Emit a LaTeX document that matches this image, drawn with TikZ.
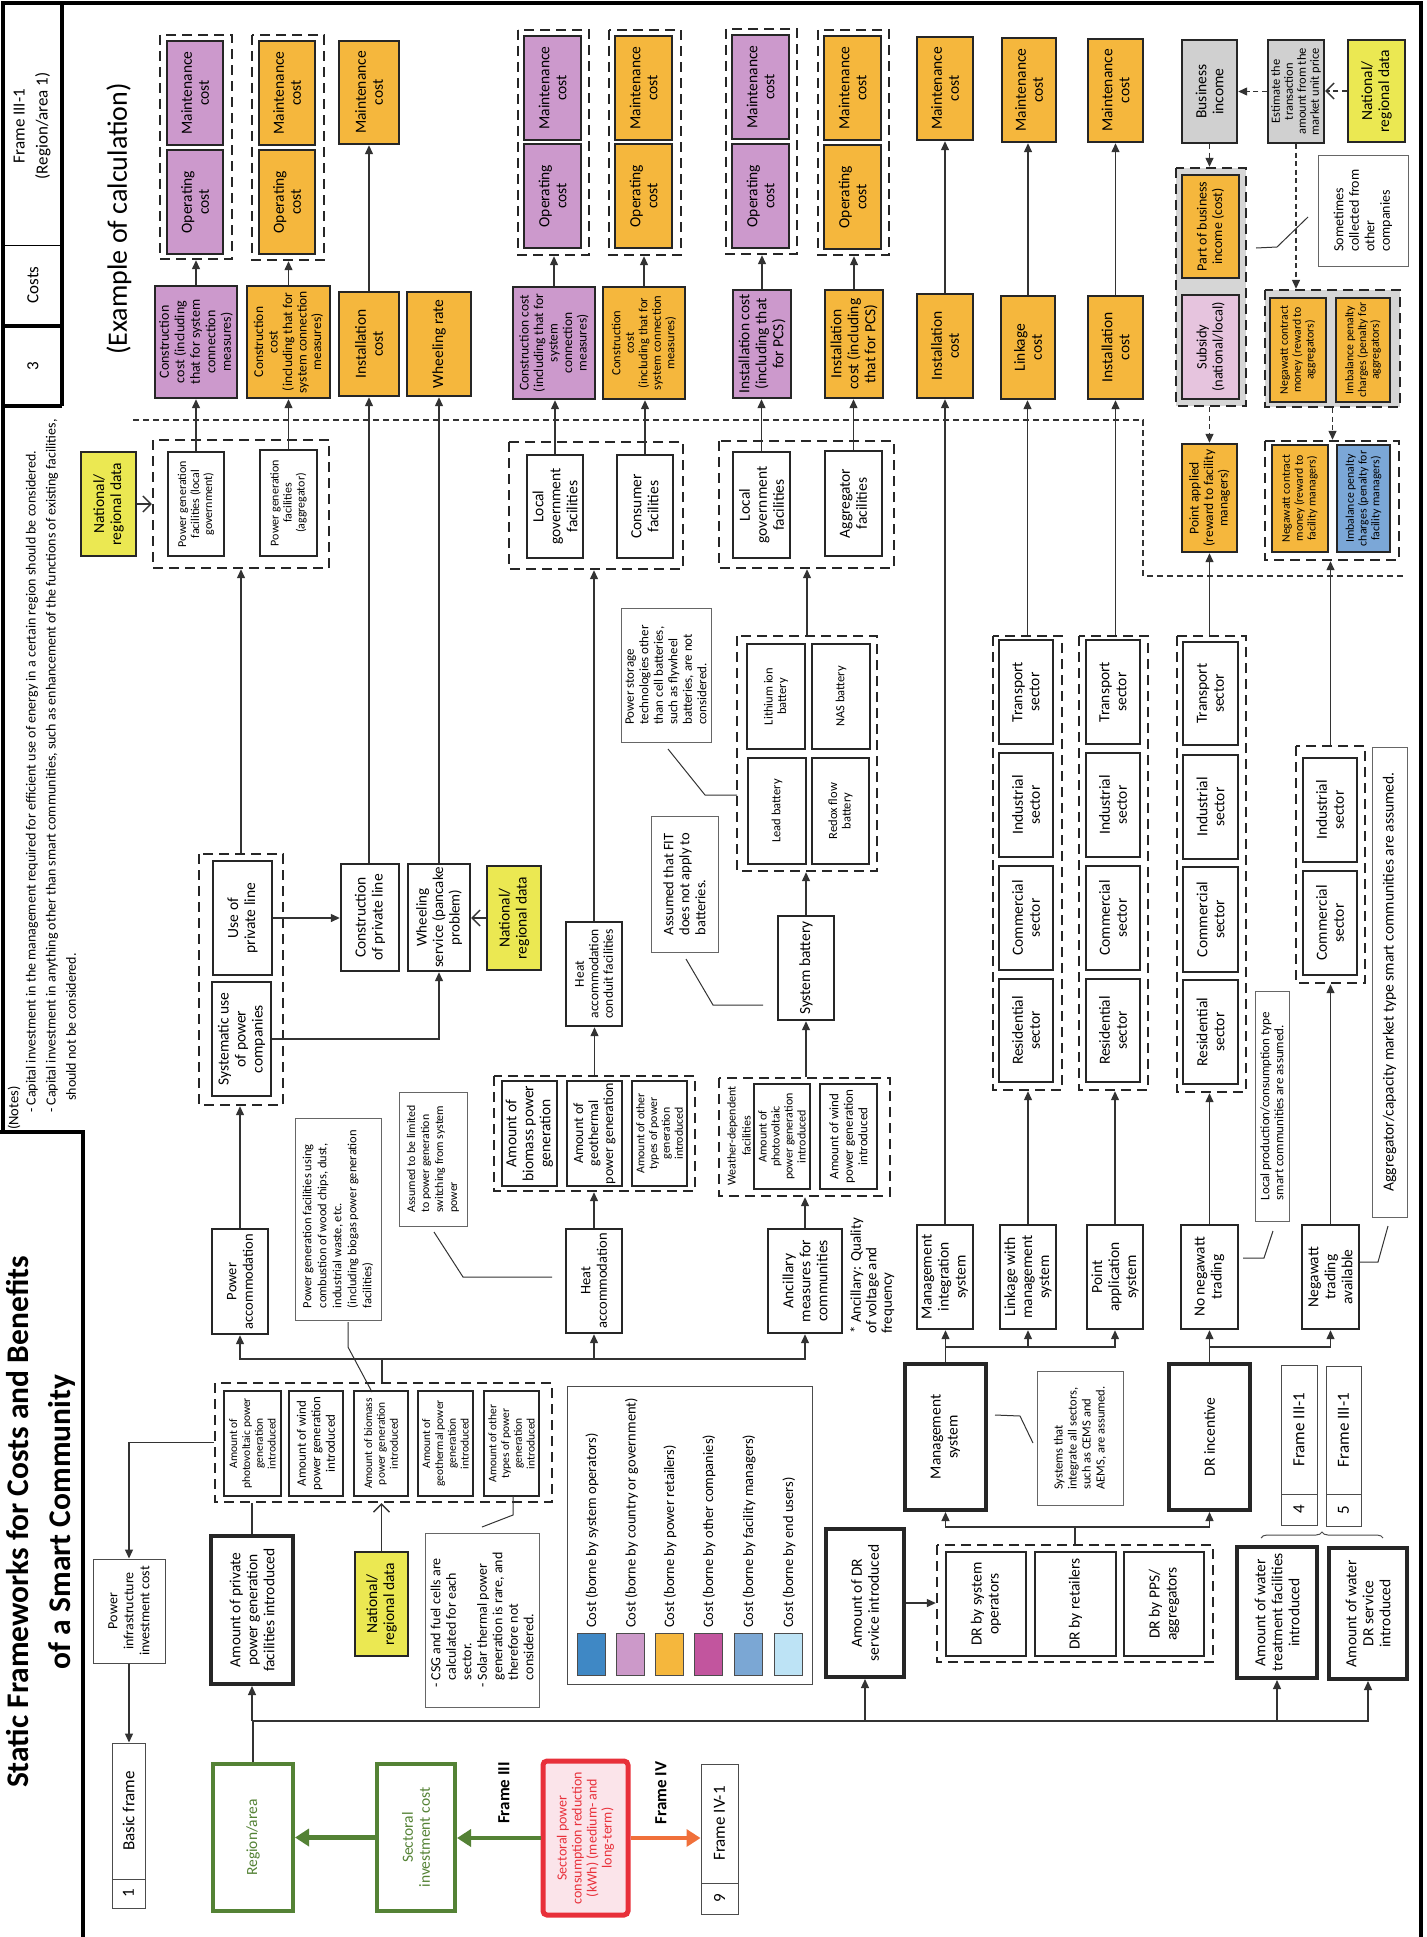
\documentclass[tikz,border=0pt]{standalone}
\usepackage{fontspec}
\setmainfont{Carlito}
\usetikzlibrary{arrows.meta,decorations.pathreplacing}
\definecolor{cpur}{RGB}{204,153,204}
\definecolor{corg}{RGB}{245,183,61}
\definecolor{cgry}{RGB}{208,208,208}
\definecolor{cgrp}{RGB}{214,214,214}
\definecolor{cpnk}{RGB}{230,196,222}
\definecolor{cyel}{RGB}{235,232,82}
\definecolor{cblu}{RGB}{123,167,215}
\definecolor{Lone}{RGB}{63,136,197}
\definecolor{Ltwo}{RGB}{204,153,201}
\definecolor{Lthree}{RGB}{245,183,61}
\definecolor{Lfour}{RGB}{194,85,158}
\definecolor{Lfive}{RGB}{123,167,212}
\definecolor{Lsix}{RGB}{189,227,245}
\definecolor{cgreen}{RGB}{84,130,53}
\definecolor{cred}{RGB}{232,48,58}
\definecolor{credf}{RGB}{251,228,234}
\definecolor{corar}{RGB}{240,112,58}
\newcommand\fA{\fontsize{15.5}{17}\selectfont}
\newcommand\fB{\fontsize{13.5}{14.5}\selectfont}
\newcommand\fC{\fontsize{11.8}{12.8}\selectfont}
\newcommand\fN{\fontsize{14}{15}\selectfont}
\newcommand\bx[7]{\node[#1,minimum width={(#6)-(#4)},minimum height={(#5)-(#3)}] (#2) at ({((#3)+(#5))/2},{((#4)+(#6))/2}) {#7};}
\begin{document}
\begin{tikzpicture}[x=1pt,y=-1pt,
 rot/.style={rotate=90, inner sep=0pt},
 box/.style={rot, draw=black!85, line width=2.4pt, align=center, inner sep=1pt, font=\fA},
 tbox/.style={box, line width=4pt},
 grp/.style={rot, draw=black!85, line width=2.4pt, dash pattern=on 10pt off 6pt},
 note/.style={rot, draw=black!60, line width=0.9pt, align=left, inner sep=2pt, font=\fC},
 thin/.style={rot, draw=black!70, line width=1pt, align=center, font=\fA},
 sw/.style={rot, draw=black!70, line width=1pt},
 gbox/.style={rot, draw=cgreen, line width=4pt, text=cgreen, align=center, font=\fA},
 rbox/.style={rot, draw=cred, line width=5pt, fill=credf, text=cred, rounded corners=4pt, align=center, inner sep=1pt, font=\fontsize{14}{15}\selectfont},
 pur/.style={fill=cpur}, org/.style={fill=corg}, gry/.style={fill=cgry},
 pnk/.style={fill=cpnk}, yel/.style={fill=cyel}, blu/.style={fill=cblu},
 ln/.style={draw=black!80, line width=1.3pt},
 arr/.style={ln, -{Triangle[length=9pt,width=8pt]}},
 darr/.style={arr, dash pattern=on 5pt off 3.5pt},
 oarr/.style={ln, -{Straight Barb[length=8pt,width=16pt]}},
 doarr/.style={oarr, dash pattern=on 5pt off 3.5pt},
 cl/.style={draw=black!80, line width=1pt},
 garr/.style={draw=cgreen, line width=4.5pt, -{Triangle[length=14pt,width=17pt]}},
 orarr/.style={draw=corar, line width=4pt, -{Triangle[length=14pt,width=17pt]}},
 frm/.style={draw=black, line width=3.5pt}
]
\useasboundingbox (0,0) rectangle (1426,1937);
\fill[white] (0,0) rectangle (1426,1937);
% ---------- frame ----------
\draw[frm] (3,1132) -- (3,3) -- (1421,3) -- (1421,1937);
\draw[frm] (0,1132) -- (83,1132) -- (83,1937);
\draw[frm] (62,3) -- (62,406);
\draw[frm] (3,326) -- (62,326);
\draw[frm] (3,406) -- (62,406);
\draw[draw=black, line width=1pt] (3,245) -- (62,245);
\node[rot,align=center,font=\fontsize{17}{23}\selectfont] (hdr1) at (32,126) {Frame III-1\\(Region/area 1)};
\node[rot,font=\fontsize{17}{19}\selectfont] (hdr2) at (33,285) {Costs};
\node[rot,font=\fontsize{17}{19}\selectfont] (hdr3) at (33,366) {3};
\node[rot,align=center,font=\bfseries\fontsize{31.5}{42}\selectfont] (title) at (41,1522) {Static Frameworks for Costs and Benefits\\of a Smart Community};
\node[rot,anchor=west,font=\fontsize{14.5}{15}\selectfont] (n0) at (14,1130) {(Notes)};
\node[rot,anchor=west,font=\fN] (n1) at (32,1113) {- Capital investment in the management required for efficient use of energy in a certain region should be considered.};
\node[rot,anchor=west,font=\fN] (n2) at (52,1113) {- Capital investment in anything other than smart communities, such as enhancement of the functions of existing facilities,};
\node[rot,anchor=west,font=\fN] (n3) at (71,1101) {should not be considered.};
\node[rot,font=\fontsize{28}{30}\selectfont] (ex) at (119,219) {(Example of calculation)};
\draw[draw=black!80, line width=1.2pt, dash pattern=on 6pt off 4pt] (133,420) -- (1143,420) -- (1143,576) -- (1403,576);
% ---------- top cost row ----------
\bx{grp}{gA}{160}{35}{232}{259}{}
\bx{grp}{gB}{252}{35}{324}{260}{}
\bx{grp}{gE}{518}{30}{589}{255}{}
\bx{grp}{gF}{609}{30}{681}{255}{}
\bx{grp}{gG}{726}{29}{797}{254}{}
\bx{grp}{gH}{818}{30}{889}{255}{}
\bx{box,pur}{mA}{167}{41}{223}{145}{Maintenance\\cost}
\bx{box,pur}{oA}{167}{150}{223}{254}{Operating\\cost}
\bx{box,pur,font=\fontsize{14}{15.5}\selectfont}{cA}{155}{286}{237}{398}{Construction\\cost (including\\that for system\\connection\\measures)}
\bx{box,org}{mB}{259}{41}{315}{145}{Maintenance\\cost}
\bx{box,org}{oB}{259}{150}{315}{254}{Operating\\cost}
\bx{box,org,font=\fB}{cB}{247}{286}{330}{398}{Construction\\cost\\(including that for\\system connection\\measures)}
\bx{box,org}{mC}{339}{41}{399}{144}{Maintenance\\cost}
\bx{box,org}{iC}{339}{292}{399}{396}{Installation\\cost}
\bx{box,org}{wD}{407}{292}{471}{396}{Wheeling rate}
\bx{box,pur}{mE}{524}{36}{581}{140}{Maintenance\\cost}
\bx{box,pur}{oE}{524}{144}{581}{248}{Operating\\cost}
\bx{box,pur,font=\fB}{cE}{513}{287}{595}{399}{Construction cost\\(including that for\\system\\connection\\measures)}
\bx{box,org}{mF}{615}{36}{672}{140}{Maintenance\\cost}
\bx{box,org}{oF}{615}{144}{672}{248}{Operating\\cost}
\bx{box,org,font=\fontsize{12.5}{13.5}\selectfont}{cF}{603}{287}{685}{399}{Construction\\cost\\(including that for\\system connection\\measures)}
\bx{box,pur}{mG}{732}{35}{789}{139}{Maintenance\\cost}
\bx{box,pur}{oG}{732}{144}{789}{248}{Operating\\cost}
\bx{box,pur}{iG}{733}{290}{791}{398}{Installation cost\\(including that\\for PCS)}
\bx{box,org}{mH}{824}{36}{881}{140}{Maintenance\\cost}
\bx{box,org}{oH}{824}{145}{881}{249}{Operating\\cost}
\bx{box,org}{iH}{825}{290}{883}{398}{Installation\\cost (including\\that for PCS)}
\bx{box,org}{mI}{917}{37}{973}{140}{Maintenance\\cost}
\bx{box,org}{iI}{917}{294}{973}{398}{Installation\\cost}
\bx{box,org}{mJ}{1002}{38}{1056}{142}{Maintenance\\cost}
\bx{box,org}{lJ}{1001}{296}{1055}{399}{Linkage\\cost}
\bx{box,org}{mK}{1088}{39}{1143}{142}{Maintenance\\cost}
\bx{box,org}{iK}{1088}{296}{1143}{399}{Installation\\cost}
% ---------- income area ----------
\bx{box,gry}{bi}{1182}{40}{1237}{143}{Business\\income}
\bx{box,gry,font=\fontsize{12.5}{13}\selectfont}{est}{1268}{40}{1324}{143}{Estimate the\\transaction\\amount from the\\market unit price}
\bx{box,yel}{nrd3}{1348}{40}{1405}{142}{National/\\regional data}
\bx{grp,fill=cgrp}{gPB}{1176}{168}{1246}{406}{}
\bx{box,org,font=\fontsize{14}{15.5}\selectfont}{pb}{1182}{175}{1239}{278}{Part of business\\income (cost)}
\bx{box,pnk,font=\fontsize{14.5}{16}\selectfont}{sub}{1182}{295}{1239}{399}{Subsidy\\(national/local)}
\bx{box,org,font=\fB}{pa}{1182}{444}{1237}{552}{Point applied\\(reward to facility\\managers)}
\bx{grp,fill=cgrp}{gNA}{1265}{290}{1400}{407}{}
\bx{box,org,font=\fC}{nca}{1270}{298}{1326}{402}{Negawatt contract\\money (reward to\\aggregators)}
\bx{box,org,font=\fC}{ipa}{1336}{298}{1390}{402}{Imbalance penalty\\charges (penalty for\\aggregators)}
\bx{grp}{gNF}{1265}{441}{1399}{560}{}
\bx{box,org,font=\fC}{ncf}{1272}{445}{1328}{552}{Negawatt contract\\money (reward to\\facility managers)}
\bx{box,blu,font=\fC}{ipf}{1337}{445}{1390}{552}{Imbalance penalty\\charges (penalty for\\facility managers)}
\bx{note,font=\fontsize{14}{15.5}\selectfont}{sc}{1318}{155}{1408}{266}{Sometimes\\collected from\\other\\companies}
\draw[cl] (1308,217) -- (1277,247) -- (1256,248);
% ---------- facility groups ----------
\bx{box,yel}{nrd1}{81}{452}{136}{556}{National/\\regional data}
\bx{grp}{g1}{153}{440}{329}{568}{}
\bx{box,font=\fontsize{12}{13}\selectfont}{pgl}{168}{452}{224}{556}{Power generation\\facilities (local\\government)}
\bx{box,font=\fontsize{12}{13}\selectfont}{pga}{260}{450}{317}{556}{Power generation\\facilities\\(aggregator)}
\bx{grp}{g2}{509}{442}{683}{569}{}
\bx{box}{lg1}{527}{455}{583}{558}{Local\\government\\facilities}
\bx{box}{cf}{617}{455}{673}{558}{Consumer\\facilities}
\bx{grp}{g3}{719}{441}{894}{568}{}
\bx{box}{lg2}{733}{452}{790}{558}{Local\\government\\facilities}
\bx{box}{ag}{825}{451}{882}{556}{Aggregator\\facilities}
% ---------- middle ----------
\bx{grp}{gU}{199}{854}{283}{1105}{}
\bx{box}{up}{213}{861}{272}{975}{Use of\\private line}
\bx{box}{sys}{212}{982}{271}{1096}{Systematic use\\of power\\companies}
\bx{box}{cpl}{341}{864}{399}{971}{Construction\\of private line}
\bx{box,font=\fontsize{15}{16.5}\selectfont}{ws}{408}{864}{470}{971}{Wheeling\\service (pancake\\problem)}
\bx{box,yel}{nrd2}{487}{866}{541}{970}{National/\\regional data}
\bx{box,font=\fontsize{14.5}{16.5}\selectfont}{pac}{212}{1229}{268}{1334}{Power\\accommodation}
\bx{box,font=\fB}{hac}{566}{922}{622}{1026}{Heat\\accommodation\\conduit facilities}
\bx{grp}{gBio}{494}{1076}{695}{1191}{}
\bx{box}{bio}{502}{1081}{557}{1186}{Amount of\\biomass power\\generation}
\bx{box,font=\fontsize{14}{15}\selectfont}{geo}{567}{1081}{622}{1186}{Amount of\\geothermal\\power generation}
\bx{box,font=\fC}{oth}{632}{1081}{687}{1186}{Amount of other\\types of power\\generation\\introduced}
\bx{box,font=\fontsize{14.5}{16.5}\selectfont}{ha}{566}{1229}{622}{1333}{Heat\\accommodation}
\bx{grp}{gBat}{737}{636}{877}{871}{}
\bx{box,font=\fontsize{12.5}{13.5}\selectfont}{li}{747}{644}{805}{749}{Lithium ion\\battery}
\bx{box,font=\fontsize{12.5}{13.5}\selectfont}{nas}{812}{644}{870}{749}{NAS battery}
\bx{box,font=\fontsize{12.5}{13.5}\selectfont}{lead}{748}{758}{806}{864}{Lead battery}
\bx{box,font=\fontsize{12.5}{13.5}\selectfont}{rf}{812}{758}{869}{864}{Redox flow\\battery}
\bx{box}{sb}{778}{916}{834}{1020}{System battery}
\bx{grp}{gW}{719}{1078}{890}{1196}{}
\node[rot,align=center,font=\fontsize{12}{15}\selectfont] (wlab) at (739,1136) {Weather-dependent\\facilities};
\bx{box,font=\fontsize{12}{13}\selectfont}{pv}{754}{1084}{810}{1189}{Amount of\\photovoltaic\\power generation\\introduced}
\bx{box,font=\fontsize{13}{14.5}\selectfont}{wind}{820}{1084}{877}{1189}{Amount of wind\\power generation\\introduced}
\bx{box}{anc}{768}{1229}{842}{1333}{Ancillary\\measures for\\communities}
\node[rot,anchor=north west,align=left,font=\fontsize{15}{15.5}\selectfont] (anote) at (850,1334) {* Ancillary: Quality\\of voltage and\\frequency};
\bx{note,font=\fontsize{12.5}{15}\selectfont}{pgn}{295}{1118}{381}{1320}{Power generation facilities using\\combustion of wood chips, dust,\\industrial waste, etc.\\(including biogas power generation\\facilities)}
\bx{note,font=\fontsize{11.8}{14}\selectfont}{asl}{399}{1092}{467}{1226}{Assumed to be limited\\to power generation\\switching from system\\power}
\bx{note,font=\fontsize{13}{14.5}\selectfont}{pst}{621}{608}{711}{742}{Power storage\\technologies other\\than cell batteries,\\such as flywheel\\batteries, are not\\considered.}
\bx{note,font=\fontsize{14.5}{16}\selectfont}{fitn}{651}{816}{718}{952}{Assumed that FIT\\does not apply to\\batteries.}
\draw[cl] (348,1322) -- (348,1347) -- (372,1392);
\draw[cl] (434,1232) -- (463,1277) -- (552,1277);
\draw[cl] (668,749) -- (705,795) -- (737,795);
\draw[cl] (686,959) -- (713,1005) -- (763,1005);
% ---------- sector groups ----------
\bx{grp}{gLk}{993}{636}{1062}{1090}{}
\bx{box}{tr1}{999}{640}{1053}{744}{Transport\\sector}
\bx{box}{in1}{999}{753}{1053}{857}{Industrial\\sector}
\bx{box}{co1}{999}{866}{1053}{970}{Commercial\\sector}
\bx{box}{re1}{999}{979}{1053}{1082}{Residential\\sector}
\bx{grp}{gPt}{1079}{636}{1148}{1090}{}
\bx{box}{tr2}{1086}{640}{1140}{744}{Transport\\sector}
\bx{box}{in2}{1086}{753}{1140}{857}{Industrial\\sector}
\bx{box}{co2}{1086}{866}{1140}{970}{Commercial\\sector}
\bx{box}{re2}{1086}{979}{1140}{1082}{Residential\\sector}
\bx{grp}{gNo}{1177}{636}{1246}{1092}{}
\bx{box}{tr3}{1183}{642}{1238}{745}{Transport\\sector}
\bx{box}{in3}{1183}{755}{1238}{859}{Industrial\\sector}
\bx{box}{co3}{1183}{867}{1238}{972}{Commercial\\sector}
\bx{box}{re3}{1183}{980}{1238}{1084}{Residential\\sector}
\bx{grp}{gNv}{1296}{746}{1365}{983}{}
\bx{box}{in4}{1303}{758}{1357}{862}{Industrial\\sector}
\bx{box}{co4}{1303}{871}{1357}{975}{Commercial\\sector}
\bx{note,font=\fontsize{13}{14}\selectfont}{lpc}{1255}{991}{1289}{1221}{Local production/consumption type\\smart communities are assumed.}
\bx{note,font=\fontsize{15.5}{16}\selectfont}{acm}{1372}{747}{1407}{1217}{Aggregator/capacity market type smart communities are assumed.}
\draw[cl] (1273,1231) -- (1264,1258) -- (1243,1258);
\draw[cl] (1388,1226) -- (1378,1262) -- (1359,1262);
% ---------- systems ----------
\bx{box}{mis}{917}{1225}{973}{1329}{Management\\integration\\system}
\bx{box}{lms}{1000}{1225}{1056}{1329}{Linkage with\\management\\system}
\bx{box}{pas}{1087}{1225}{1143}{1329}{Point\\application\\system}
\bx{box}{nnt}{1181}{1225}{1238}{1329}{No negawatt\\trading}
\bx{box}{nta}{1302}{1225}{1359}{1329}{Negawatt\\trading\\available}
\bx{tbox}{ms}{905}{1364}{986}{1510}{Management\\system}
\bx{tbox}{dri}{1169}{1364}{1250}{1510}{DR incentive}
\bx{note,font=\fontsize{12.5}{14}\selectfont}{sysn}{1037}{1371}{1123}{1505}{Systems that\\integrate all sectors,\\such as CEMS and\\AEMS, are assumed.}
\draw[cl] (995,1415) -- (1020,1416) -- (1033,1443);
\bx{grp}{gDR}{937}{1545}{1213}{1662}{}
\bx{box}{dso}{946}{1552}{1026}{1656}{DR by system\\operators}
\bx{box}{drr}{1035}{1552}{1116}{1656}{DR by retailers}
\bx{box}{drp}{1124}{1552}{1204}{1656}{DR by PPS/\\aggregators}
\bx{tbox}{drs}{826}{1529}{904}{1677}{Amount of DR\\service introduced}
\bx{thin}{f4}{1281}{1365}{1317}{1525}{}
\draw[draw=black!70, line width=1pt] (1281,1494) -- (1317,1494);
\node[rot,font=\fontsize{17}{19}\selectfont] (f4t) at (1299,1429.5) {Frame III-1};
\node[rot,font=\fontsize{17}{19}\selectfont] (f4n) at (1299,1509.5) {4};
\bx{thin}{f5}{1326}{1366}{1361}{1526}{}
\draw[draw=black!70, line width=1pt] (1326,1494) -- (1361,1494);
\node[rot,font=\fontsize{17}{19}\selectfont] (f5t) at (1343.5,1430) {Frame III-1};
\node[rot,font=\fontsize{17}{19}\selectfont] (f5n) at (1343.5,1510) {5};
\draw[draw=black!70, line width=1pt, decorate, decoration={brace, amplitude=6pt}] (1261,1538) -- (1383,1538);
\bx{tbox}{wt}{1237}{1547}{1317}{1678}{Amount of water\\treatment facilities\\introduced}
\bx{tbox}{wdr}{1329}{1548}{1407}{1679}{Amount of water\\DR service\\introduced}
% ---------- bottom left ----------
\bx{grp}{pgd}{215}{1383}{552}{1502}{}
\bx{box,font=\fontsize{11.5}{12.8}\selectfont}{pv2}{224}{1391}{281}{1496}{Amount of\\photovoltaic power\\generation\\introduced}
\bx{box,font=\fontsize{13}{14.5}\selectfont}{wi2}{289}{1391}{343}{1496}{Amount of wind\\power generation\\introduced}
\bx{box,font=\fontsize{11.5}{12.8}\selectfont}{bi2}{354}{1391}{408}{1496}{Amount of biomass\\power generation\\introduced}
\bx{box,font=\fontsize{11.5}{12.8}\selectfont}{ge2}{418}{1391}{473}{1496}{Amount of\\geothermal power\\generation\\introduced}
\bx{box,font=\fontsize{11.5}{12.8}\selectfont}{ot2}{484}{1391}{539}{1496}{Amount of other\\types of power\\generation\\introduced}
\bx{thin,font=\fontsize{14}{16}\selectfont}{pic}{93}{1559}{165}{1663}{Power\\infrastructure\\investment cost}
\bx{thin}{bf}{112}{1743}{145}{1908}{}
\draw[draw=black!70, line width=1pt] (112,1879) -- (145,1879);
\node[rot,font=\fontsize{17}{19}\selectfont] (bft) at (128.5,1811) {Basic frame};
\node[rot,font=\fontsize{17}{19}\selectfont] (bfn) at (128.5,1893.5) {1};
\bx{tbox}{app}{211}{1536}{293}{1684}{Amount of private\\power generation\\facilities introduced}
\bx{box,yel}{nrd4}{355}{1552}{408}{1656}{National/\\regional data}
\bx{note,font=\fontsize{14}{15.5}\selectfont}{csg}{425}{1533}{539}{1707}{- CSG and fuel cells are\\\phantom{- }calculated for each\\\phantom{- }sector.\\- Solar thermal power\\\phantom{- }generation is rare, and\\\phantom{- }therefore not\\\phantom{- }considered.}
\draw[cl] (482,1527) -- (513,1515) -- (513,1496);
% legend
\bx{thin}{leg}{567}{1386}{812}{1684}{}
\foreach \xc/\col/\lab [count=\i] in {591/Lone/system operators, 630.5/Ltwo/country or government, 669/Lthree/power retailers, 708/Lfour/other companies, 748/Lfive/facility managers, 788/Lsix/end users}{
 \node[sw,fill=\col,minimum width=42,minimum height=28] (sw\i) at (\xc,1654) {};
 \node[rot,anchor=west,font=\fontsize{14.5}{16}\selectfont] (lt\i) at (\xc+1,1628) {Cost (borne by \lab)};
}
% bottom frames
\bx{gbox}{ra}{213}{1764}{293}{1911}{Region/area}
\bx{gbox}{si}{377}{1764}{455}{1911}{Sectoral\\investment cost}
\node[rot,font=\bfseries\fontsize{17}{19}\selectfont] (fIII) at (504,1793) {Frame III};
\bx{rbox}{rb}{543}{1761}{628}{1915}{Sectoral power\\consumption reduction\\(kWh) (medium- and\\long-term)}
\node[rot,font=\bfseries\fontsize{17}{19}\selectfont] (fIV) at (661,1793) {Frame IV};
\bx{thin}{f9}{701}{1764}{738}{1914}{}
\draw[draw=black!70, line width=1pt] (701,1883) -- (738,1883);
\node[rot,font=\fontsize{17}{19}\selectfont] (f9t) at (719.5,1823.5) {Frame IV-1};
\node[rot,font=\fontsize{17}{19}\selectfont] (f9n) at (719.5,1898.5) {9};
% ---------- connectors ----------
\draw[arr] (cA.east) -- (cA.east |- gA.west);
\draw[arr] (cB.east) -- (cB.east |- gB.west);
\draw[arr] (cE.east) -- (cE.east |- gE.west);
\draw[arr] (cF.east) -- (cF.east |- gF.west);
\draw[arr] (iG.east) -- (iG.east |- gG.west);
\draw[arr] (iH.east) -- (iH.east |- gH.west);
\draw[arr] (iC.east) -- (mC.west);
\draw[arr] (iI.east) -- (mI.west);
\draw[arr] (lJ.east) -- (lJ.east |- mJ.west);
\draw[arr] (iK.east) -- (mK.west);
\draw[arr] (pgl.east) -- (pgl.east |- cA.west);
\draw[arr] (pga.east) -- (pga.east |- cB.west);
\draw[arr] (lg1.east) -- (lg1.east |- cE.west);
\draw[arr] (cf.east) -- (cf.east |- cF.west);
\draw[arr] (lg2.east) -- (lg2.east |- iG.west);
\draw[arr] (ag.east) -- (ag.east |- iH.west);
\draw[oarr] (nrd1.south) -- (nrd1.south -| g1.north);
\draw[doarr] (nrd3.north) -- (nrd3.north -| est.south);
\draw[darr] (est.north) -- (est.north -| bi.south);
\draw[darr] (bi.west) -- (bi.west |- gPB.east);
\draw[darr] (pa.east |- gPB.west) -- (pa.east);
\draw[darr] (est.west) -- (est.west |- gNA.east);
\draw[darr] (gNA.west) -- (gNA.west |- gNF.east);
\draw[arr] (gNv.east) -- (gNv.east |- gNF.west);
\draw[arr] (pa.west |- gNo.east) -- (pa.west);
\draw[arr] (iK.west |- gPt.east) -- (iK.west);
\draw[arr] (gLk.east) -- (gLk.east |- lJ.west);
\draw[arr] (mis.east) -- (mis.east |- iI.west);
\draw[arr] (lms.east) -- (lms.east |- gLk.west);
\draw[arr] (pas.east) -- (pas.east |- gPt.west);
\draw[arr] (nnt.east) -- (nnt.east |- gNo.west);
\draw[arr] (nta.east) -- (nta.east |- gNv.west);
\draw[arr] (gU.east) -- (gU.east |- g1.west);
\draw[arr] (up.south) -- (up.south -| cpl.north);
\draw[arr] (iC.west |- cpl.east) -- (iC.west);
\draw[arr] (ws.east) -- (ws.east |- wD.west);
\draw[arr] (sys.south) -| (ws.west);
\draw[oarr] (nrd2.north) -- (nrd2.north -| ws.south);
\draw[arr] (pac.east) -- (pac.east |- gU.west);
\draw[arr] (hac.east) -- (hac.east |- g2.west);
\draw[arr] (gBio.east) -- (gBio.east |- hac.west);
\draw[arr] (ha.east) -- (ha.east |- gBio.west);
\draw[arr] (gBat.east) -- (gBat.east |- g3.west);
\draw[arr] (sb.east) -- (sb.east |- gBat.west);
\draw[arr] (sb.west |- gW.east) -- (sb.west);
\draw[arr] (anc.east) -- (anc.east |- gW.west);
\coordinate (h4) at (382,1359);
\draw[ln] (h4 |- pgd.east) -- (h4);
\draw[arr] (h4) -| (pac.west);
\draw[arr] (h4) -| (ha.west);
\draw[arr] (h4) -| (anc.west);
\draw[arr] (pgd.north) -| (pic.east);
\draw[arr] (pic.west) -- (pic.west |- bf.east);
\draw[ln] (app.east) -- (app.east |- pgd.west);
\draw[oarr] (nrd4.east) -- (nrd4.east |- pgd.west);
\coordinate (h3) at (0,1721);
\draw[arr] (ra.east) -- (ra.east |- h3) -| (wdr.west);
\draw[arr] (app.west |- h3) -- (app.west);
\draw[arr] (drs.west |- h3) -- (drs.west);
\draw[arr] (wt.west |- h3) -- (wt.west);
\coordinate (h1) at (0,1347);
\draw[arr] (ms.east) -- (ms.east |- mis.west);
\draw[arr] (ms.east |- h1) -| (lms.west);
\draw[arr] (ms.east |- h1) -| (pas.west);
\draw[arr] (dri.east) -- (dri.east |- nnt.west);
\draw[arr] (dri.east |- h1) -| (nta.west);
\coordinate (h2) at (1075,1527);
\draw[ln] (h2 |- gDR.east) -- (h2);
\draw[arr] (h2) -| (ms.west);
\draw[arr] (h2) -| (dri.west);
\draw[arr] (drs.south) -- (drs.south -| gDR.north);
\draw[garr] (si.north) -- (si.north -| ra.south);
\draw[garr] (rb.north) -- (rb.north -| si.south);
\draw[orarr] (rb.south) -- (rb.south -| f9.north);
\end{tikzpicture}
\end{document}
